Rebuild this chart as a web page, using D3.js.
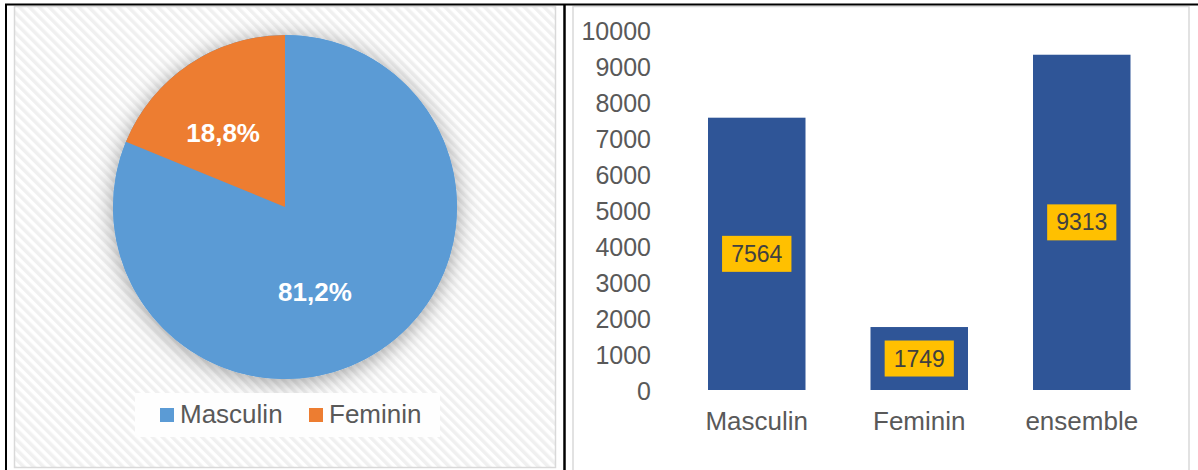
<!DOCTYPE html>
<html>
<head>
<meta charset="utf-8">
<script src="https://cdn.jsdelivr.net/npm/d3@7"></script>
<style>
  body { margin: 0; background: #fff; }
  svg { display: block; font-family: "Liberation Sans", Arial, sans-serif; }
</style>
</head>
<body>
<svg id="chart" width="1198" height="470"></svg>
<script>
// pie data
const pieCats = ["Masculin", "Feminin"];
const pieShares = [81.2, 18.8];
const pieLabels = ["81,2%", "18,8%"];
const pieColors = ["#5B9BD5", "#ED7D31"];

// bar data
const barCats = ["Masculin", "Feminin", "ensemble"];
const barValues = [7564, 1749, 9313];
const yTicks = [0, 1000, 2000, 3000, 4000, 5000, 6000, 7000, 8000, 9000, 10000];

const svg = d3.select("#chart");
const defs = svg.append("defs");

// diagonal hatch for the pie panel
const pat = defs.append("pattern")
    .attr("id", "hatch")
    .attr("patternUnits", "userSpaceOnUse")
    .attr("width", 7).attr("height", 7)
    .attr("patternTransform", "rotate(-45)");
pat.append("rect").attr("width", 7).attr("height", 7).attr("fill", "#ffffff");
pat.append("rect").attr("width", 3.5).attr("height", 7).attr("fill", "#f0f0f0");

// soft shadow round the pie
const f = defs.append("filter").attr("id", "glow")
    .attr("x", "-30%").attr("y", "-30%").attr("width", "160%").attr("height", "160%");
f.append("feDropShadow")
    .attr("dx", 0).attr("dy", 3)
    .attr("stdDeviation", 11)
    .attr("flood-color", "#000")
    .attr("flood-opacity", 0.38);

// ---------- left panel : pie ----------
svg.append("rect")
    .attr("x", 14.5).attr("y", 6.5)
    .attr("width", 541).attr("height", 461)
    .attr("fill", "url(#hatch)")
    .attr("stroke", "#d9d9d9").attr("stroke-width", 1.5);

let cx = 285, cy = 207, R = 172;
let gPie = svg.append("g").attr("transform", "translate(" + cx + "," + cy + ")");

let pie = d3.pie().sort(null).value(function(d) { return d; });
let arcs = pie(pieShares);
let arc = d3.arc().innerRadius(0).outerRadius(R);
let labelArc = d3.arc().innerRadius(95).outerRadius(95);

gPie.append("circle").attr("r", R).attr("fill", "#5B9BD5").attr("filter", "url(#glow)");

gPie.selectAll(".slice")
    .data(arcs)
  .enter().append("path")
    .attr("class", "slice")
    .attr("d", arc)
    .attr("fill", function(d, i) { return pieColors[i]; });

// small nudges so the labels sit where Excel put them
let nudge = [[-23, 6], [-9, 5]];
gPie.selectAll(".plabel")
    .data(arcs)
  .enter().append("text")
    .attr("class", "plabel")
    .attr("x", function(d, i) { return labelArc.centroid(d)[0] + nudge[i][0]; })
    .attr("y", function(d, i) { return labelArc.centroid(d)[1] + nudge[i][1]; })
    .attr("dy", "0.35em")
    .attr("text-anchor", "middle")
    .attr("fill", "#fff")
    .attr("font-weight", "bold")
    .attr("font-size", 26)
    .text(function(d, i) { return pieLabels[i]; });

// legend
let leg = svg.append("g");
leg.append("rect")
    .attr("x", 135).attr("y", 393).attr("width", 305).attr("height", 44)
    .attr("fill", "#fefefe");
let legX = [160, 309];
pieCats.forEach(function(c, i) {
    leg.append("rect")
        .attr("x", legX[i]).attr("y", 408).attr("width", 14).attr("height", 14)
        .attr("fill", pieColors[i]);
    leg.append("text")
        .attr("x", legX[i] + 20).attr("y", 423)
        .attr("font-size", 26).attr("fill", "#595959")
        .text(c);
});

// ---------- right panel : bars ----------
svg.append("rect")
    .attr("x", 573).attr("y", 6.5)
    .attr("width", 616).attr("height", 480)
    .attr("fill", "#fff")
    .attr("stroke", "#d9d9d9").attr("stroke-width", 1.5);

let x = d3.scaleBand().domain(barCats).range([675.5, 1163]).paddingInner(0.4).paddingOuter(0.2);
let y = d3.scaleLinear().domain([0, 10000]).range([390, 30]);

svg.selectAll(".bar")
    .data(barValues)
  .enter().append("rect")
    .attr("class", "bar")
    .attr("x", function(d, i) { return x(barCats[i]); })
    .attr("width", x.bandwidth())
    .attr("y", function(d) { return y(d); })
    .attr("height", function(d) { return y(0) - y(d); })
    .attr("fill", "#2F5597");

// y axis
let yAx = svg.append("g")
    .attr("transform", "translate(660,1)")
    .call(d3.axisLeft(y).tickValues(yTicks).tickSize(0).tickPadding(9).tickFormat(d3.format("d")));
yAx.select(".domain").remove();
yAx.selectAll("text")
    .attr("font-size", 25)
    .attr("font-family", "Liberation Sans, Arial, sans-serif")
    .attr("fill", "#595959");

// x axis
let xAx = svg.append("g")
    .attr("transform", "translate(0,390)")
    .call(d3.axisBottom(x).tickSize(0).tickPadding(22));
xAx.select(".domain").remove();
xAx.selectAll("text")
    .attr("font-size", 26)
    .attr("font-family", "Liberation Sans, Arial, sans-serif")
    .attr("fill", "#595959");

// value labels in yellow boxes
let lab = svg.selectAll(".vlab")
    .data(barValues)
  .enter().append("g")
    .attr("class", "vlab")
    .attr("transform", function(d, i) {
        return "translate(" + (x(barCats[i]) + x.bandwidth() / 2) + "," + ((y(d) + y(0)) / 2) + ")";
    });
lab.append("rect").attr("fill", "#FFC000");
lab.append("text")
    .attr("text-anchor", "middle")
    .attr("dy", "0.35em")
    .attr("font-size", 23)
    .attr("fill", "#404040")
    .text(function(d) { return d; });
lab.each(function() {
    let g = d3.select(this);
    let bb = g.select("text").node().getBBox();
    g.select("rect")
        .attr("x", -bb.width / 2 - 9).attr("y", -18)
        .attr("width", bb.width + 18).attr("height", 36);
});

// ---------- table borders ----------
svg.append("line").attr("x1", 5).attr("x2", 1198).attr("y1", 4.5).attr("y2", 4.5)
    .attr("stroke", "#000").attr("stroke-width", 1.8);
svg.append("line").attr("x1", 6).attr("x2", 6).attr("y1", 4).attr("y2", 470)
    .attr("stroke", "#000").attr("stroke-width", 2);
svg.append("line").attr("x1", 564.5).attr("x2", 564.5).attr("y1", 4).attr("y2", 470)
    .attr("stroke", "#000").attr("stroke-width", 2.5);
</script>
</body>
</html>
